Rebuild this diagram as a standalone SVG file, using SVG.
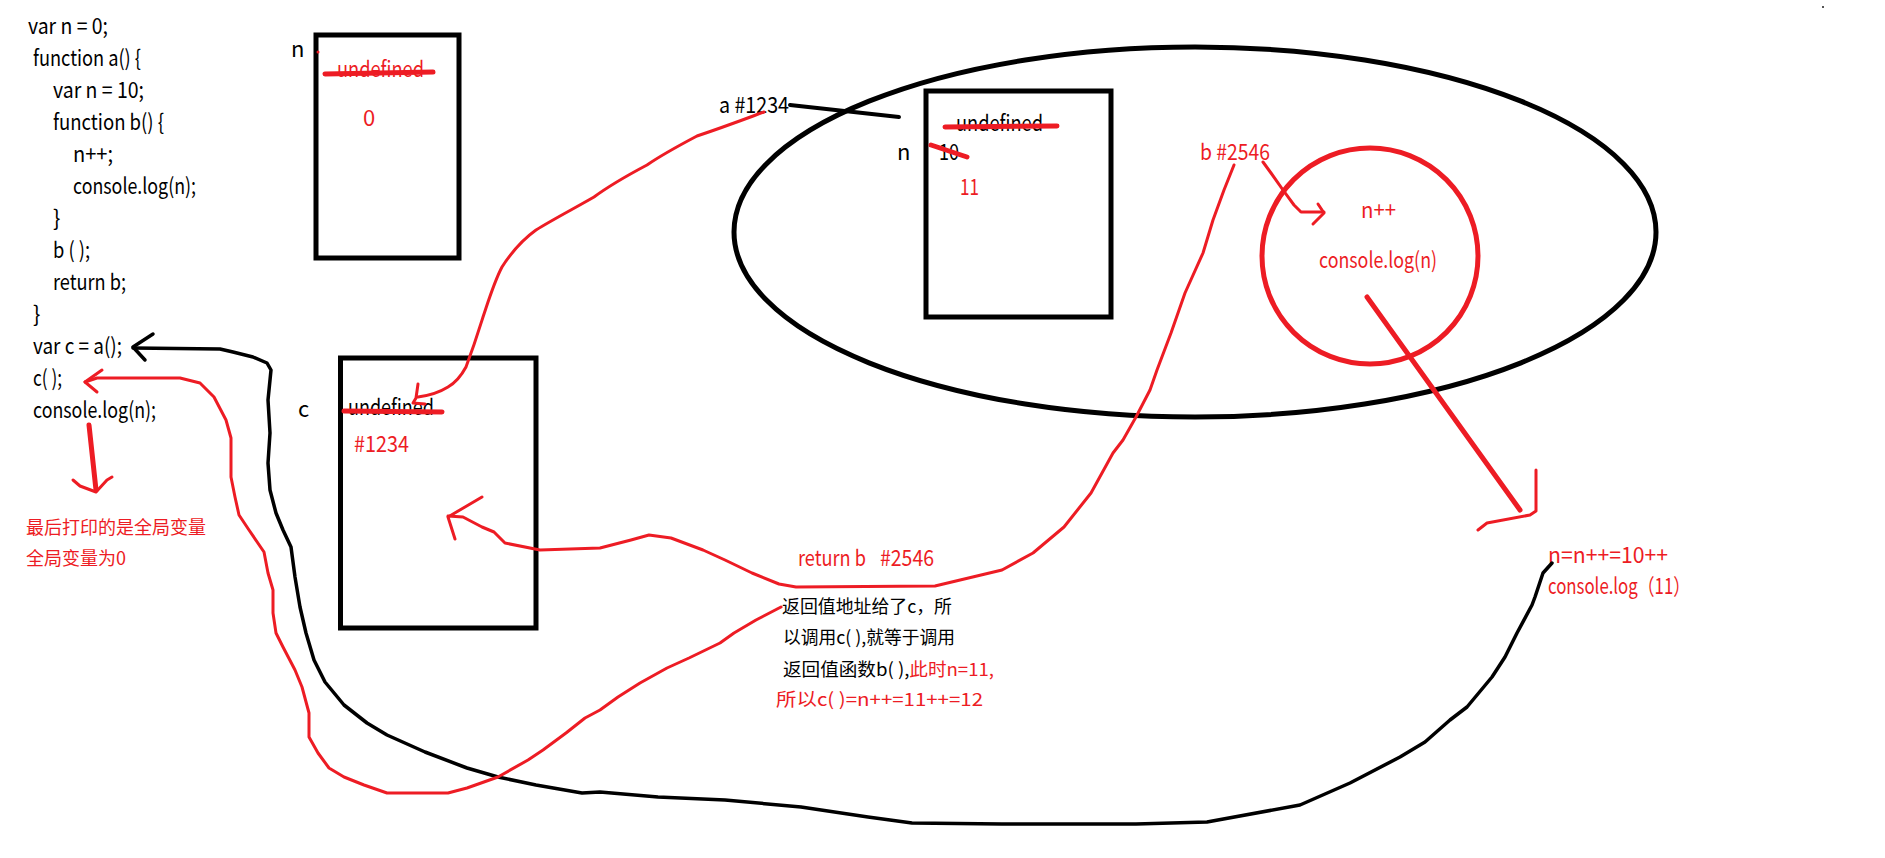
<svg xmlns="http://www.w3.org/2000/svg" width="1885" height="858" viewBox="0 0 1885 858">
<style>
text{font-family:"Noto Sans CJK SC","Noto Sans",sans-serif;font-size:22px}
.k{fill:#000}
.r{fill:#ED1C24}
.cn{font-size:18px}
.box{fill:none;stroke:#000;stroke-width:5}
.rl{fill:none;stroke:#ED1C24;stroke-width:3;stroke-linejoin:round;stroke-linecap:round}
.rt{fill:none;stroke:#ED1C24;stroke-width:5;stroke-linejoin:round;stroke-linecap:round}
.bl{fill:none;stroke:#000;stroke-width:3.5;stroke-linejoin:round;stroke-linecap:round}
</style>
<rect width="1885" height="858" fill="#fff"/>
<g id="code">
<text class="k" x="28" y="34" textLength="80" lengthAdjust="spacingAndGlyphs">var n = 0;</text>
<text class="k" x="33" y="66" textLength="108" lengthAdjust="spacingAndGlyphs">function a() {</text>
<text class="k" x="53" y="98" textLength="91" lengthAdjust="spacingAndGlyphs">var n = 10;</text>
<text class="k" x="53" y="130" textLength="111" lengthAdjust="spacingAndGlyphs">function b() {</text>
<text class="k" x="73" y="162" textLength="40" lengthAdjust="spacingAndGlyphs">n++;</text>
<text class="k" x="73" y="194" textLength="123" lengthAdjust="spacingAndGlyphs">console.log(n);</text>
<text class="k" x="53" y="226">}</text>
<text class="k" x="53" y="258" textLength="37" lengthAdjust="spacingAndGlyphs">b ( );</text>
<text class="k" x="53" y="290" textLength="73" lengthAdjust="spacingAndGlyphs">return b;</text>
<text class="k" x="33" y="322">}</text>
<text class="k" x="33" y="354" textLength="89" lengthAdjust="spacingAndGlyphs">var c = a();</text>
<text class="k" x="33" y="386" textLength="29" lengthAdjust="spacingAndGlyphs">c( );</text>
<text class="k" x="33" y="418" textLength="123" lengthAdjust="spacingAndGlyphs">console.log(n);</text>
</g>
<g id="global-note">
<text class="r cn" x="26" y="534">最后打印的是全局变量</text>
<text class="r cn" x="26" y="565">全局变量为0</text>
</g>
<g id="box-n">
<rect class="box" x="316" y="35" width="143" height="223"/>
<text class="k" x="291" y="57">n</text>
<circle cx="318" cy="52" r="1.5" fill="#ED1C24"/>
<text class="r" x="337" y="77" textLength="87" lengthAdjust="spacingAndGlyphs">undefined</text>
<path class="rt" d="M325,74 L433,72" stroke-width="6"/>
<text class="r" x="363" y="126">0</text>
</g>
<g id="box-c">
<rect class="box" x="340.5" y="358" width="195.5" height="270"/>
<text class="k" x="298" y="417">c</text>
<text class="k" x="348" y="415" textLength="86" lengthAdjust="spacingAndGlyphs">undefined</text>
<path class="rt" d="M344,411 L442,412" stroke-width="6"/>
<text class="r" x="354" y="452" textLength="55" lengthAdjust="spacingAndGlyphs">#1234</text>
</g>
<g id="scope-a">
<ellipse cx="1195" cy="232" rx="461" ry="185" fill="none" stroke="#000" stroke-width="5"/>
<text class="k" x="719" y="113" textLength="70" lengthAdjust="spacingAndGlyphs">a #1234</text>
<path d="M790,105 L899,117" fill="none" stroke="#000" stroke-width="4" stroke-linecap="round"/>
</g>
<g id="box-a-n">
<rect class="box" x="926" y="91" width="185" height="226"/>
<text class="k" x="956" y="131" textLength="87" lengthAdjust="spacingAndGlyphs">undefined</text>
<path class="rt" d="M945,127 L1057,126"/>
<text class="k" x="897" y="160">n</text>
<text class="k" x="939" y="160" textLength="20" lengthAdjust="spacingAndGlyphs">10</text>
<path class="rt" d="M931,145 L967,157" stroke-width="4"/>
<text class="r" x="960" y="195" textLength="19" lengthAdjust="spacingAndGlyphs">11</text>
</g>
<g id="func-b">
<text class="r" x="1200" y="160" textLength="70" lengthAdjust="spacingAndGlyphs">b #2546</text>
<circle cx="1370" cy="256" r="108" fill="none" stroke="#ED1C24" stroke-width="5"/>
<text class="r" x="1361" y="218" textLength="35" lengthAdjust="spacingAndGlyphs">n++</text>
<text class="r" x="1319" y="268" textLength="118" lengthAdjust="spacingAndGlyphs">console.log(n)</text>
</g>
<g id="result">
<text class="r" x="1548" y="563" textLength="120" lengthAdjust="spacingAndGlyphs">n=n++=10++</text>
<text class="r" x="1548" y="594" textLength="142" lengthAdjust="spacingAndGlyphs">console.log（11）</text>
</g>
<g id="return-note">
<text class="r" x="798" y="566" textLength="68" lengthAdjust="spacingAndGlyphs">return b</text>
<text class="r" x="880" y="566" textLength="54" lengthAdjust="spacingAndGlyphs">#2546</text>
<text class="k cn" x="782" y="613" textLength="170" lengthAdjust="spacingAndGlyphs">返回值地址给了c，所</text>
<text class="k cn" x="783" y="644" textLength="172" lengthAdjust="spacingAndGlyphs">以调用c( ),就等于调用</text>
<text class="k cn" x="783" y="676" textLength="211" lengthAdjust="spacingAndGlyphs">返回值函数b( ),<tspan class="r">此时n=11,</tspan></text>
<text class="r cn" x="776" y="706" textLength="207" lengthAdjust="spacingAndGlyphs">所以c( )=n++=11++=12</text>
</g>
<g id="connectors">
<path class="rl" d="M764,112 C745,119 724,127 697,136 C680,145 660,156 647,165 C630,174 613,183 594,197 C575,208 552,220 536,230 C522,240 513,250 502,267 C495,280 492,290 483,317 C478,333 475,343 466,367 C460,378 455,383 448,387 C440,392 433,395 418,397"/>
<path class="rl" d="M418,384 L416,398 L413,403 L425,404"/>
<path class="rl" d="M1234,165 L1224,190 L1213,220 L1203,253 L1185,293 L1171,333 L1157,370 L1150,390 L1136,417 L1123,440 L1113,453 L1091,493 L1064,527 L1033,553 L1002,570 L935,586 L796,587 L779,584 L752,573 L725,560 L703,550 L671,538 L649,535 L631,540 L600,548 L540,550 L505,543 L494,532 L482,527 L463,517 L448,516"/>
<path class="rl" d="M482,497 L465,507 L448,517 L455,539"/>
<path class="rl" d="M1263,162 L1271,173 L1283,190 L1294,205 L1301,212 L1324,212"/>
<path class="rl" d="M1318,204 L1324,213 L1313,224"/>
<path class="rt" d="M1367,297 L1520,510"/>
<path class="rl" d="M1536,470 L1536,511 L1530,515 L1487,523 L1478,530" stroke-width="4"/>
<path class="bl" d="M1552,563 L1543,573 L1535,597 L1532,605 L1517,633 L1505,657 L1492,677 L1467,707 L1450,720 L1425,742 L1400,757 L1350,783 L1300,805 L1207,822 L1136,824 L1002,824 L912,823 L868,817 L801,807 L725,800 L658,797 L600,792 L582,793 L536,785 L498,777 L467,768 L425,752 L387,735 L367,723 L344,705 L325,682 L314,660 L306,633 L300,607 L295,577 L291,547 L283,530 L276,513 L270,490 L268,463 L270,433 L268,400 L271,370 L267,363 L253,357 L233,352 L220,349 L133,348"/>
<path class="bl" d="M153,334 L133,347 L145,360" stroke-width="4"/>
<path class="rl" d="M781,607 L756,620 L734,633 L720,643 L689,658 L667,668 L640,683 L618,697 L600,710 L585,718 L566,733 L543,750 L528,760 L498,777 L467,788 L448,793 L387,793 L364,785 L344,777 L329,768 L318,753 L309,737 L309,713 L302,687 L295,670 L283,647 L276,633 L273,613 L273,590 L268,573 L264,552 L249,530 L239,515 L235,497 L231,477 L231,438 L226,420 L214,397 L200,383 L180,378 L97,378 L85,382"/>
<path class="rl" d="M102,370 L85,382 L97,392"/>
<path class="rt" d="M89,425 L96,490"/>
<path class="rl" d="M73,480 L80,486 L96,492 L107,480 L112,477" stroke-width="4"/>
</g>
<rect x="1822" y="6" width="2" height="2" fill="#555"/>
</svg>
